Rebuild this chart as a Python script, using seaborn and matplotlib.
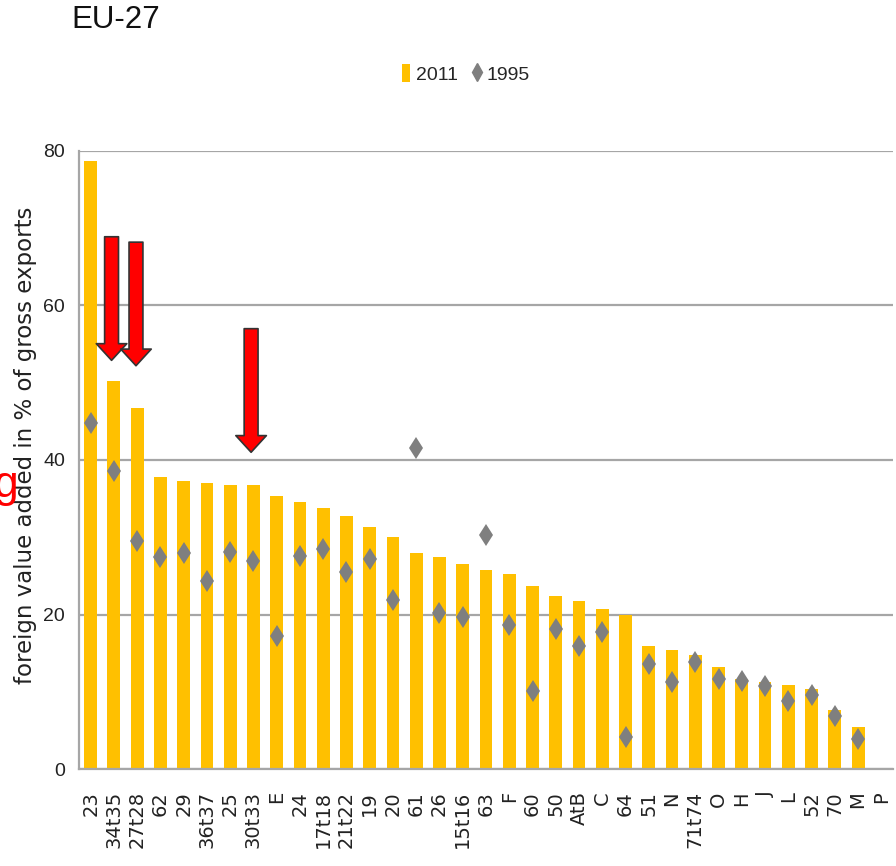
import matplotlib
matplotlib.use('Agg')
import matplotlib.pyplot as plt
from matplotlib.lines import Line2D
from matplotlib.patches import Patch
from matplotlib.ticker import FixedLocator
import numpy as np
import seaborn as sns

# sectors sorted by foreign VA share in 2011
sectors = ['23', '34t35', '27t28', '62', '29', '36t37', '25', '30t33', 'E', '24',
           '17t18', '21t22', '19', '20', '61', '26', '15t16', '63', 'F', '60',
           '50', 'AtB', 'C', '64', '51', 'N', '71t74', 'O', 'H', 'J',
           'L', '52', '70', 'M', 'P']
share_2011 = [78.7, 50.2, 46.7, 37.8, 37.3, 37.0, 36.8, 36.8, 35.3, 34.6,
              33.8, 32.8, 31.3, 30.0, 28.0, 27.5, 26.5, 25.7, 25.2, 23.7,
              22.4, 21.7, 20.7, 20.0, 15.9, 15.4, 14.7, 13.2, 11.6, 11.2,
              10.9, 10.4, 7.6, 5.4, 0.0]
share_1995 = [44.8, 38.6, 29.5, 27.4, 28.0, 24.3, 28.1, 26.9, 17.2, 27.6,
              28.5, 25.5, 27.2, 21.9, 41.5, 20.2, 19.7, 30.3, 18.6, 10.1,
              18.1, 15.9, 17.7, 4.2, 13.6, 11.3, 13.9, 11.6, 11.4, 10.8,
              8.8, 9.6, 6.9, 3.9, np.nan]
yticks = [0, 20, 40, 60, 80]

bar_col = '#FFC000'
dia_col = '#7F7F7F'
grey = '#A6A6A6'
narrow = ['Liberation Sans Narrow', 'Liberation Sans']

sns.set_style('white')
plt.rcParams['font.family'] = ['DejaVu Sans']

fig = plt.figure(figsize=(8.96, 8.66), dpi=100)
ax = fig.add_axes([79 / 896, 97 / 866, 814 / 896, 618 / 866])

sns.barplot(x=sectors, y=share_2011, order=sectors, color=bar_col, saturation=1,
            width=0.55, linewidth=0, ax=ax)
sns.pointplot(x=sectors, y=share_1995, order=sectors, color=dia_col, marker='d',
              markersize=11.5, markeredgewidth=0, linestyle='none', errorbar=None, ax=ax)

ax.set_xlim(-0.5, len(sectors) - 0.5)
ax.set_ylim(0, 80)
ax.set_yticks(yticks)
ax.yaxis.grid(True, color=grey, lw=1.6)
ax.set_axisbelow(True)

for s in ['top', 'right']:
    ax.spines[s].set_visible(False)
for s in ['left', 'bottom']:
    ax.spines[s].set_color(grey)
    ax.spines[s].set_linewidth(1.6)

ax.set_xticks(range(len(sectors)))
ax.set_xticklabels(sectors, rotation=90, fontsize=14, color='#222222')
ax.xaxis.set_minor_locator(FixedLocator(np.arange(-0.5, len(sectors), 1)))
ax.tick_params(axis='x', which='major', length=0, pad=16)
ax.tick_params(axis='x', which='minor', length=7, width=1.2, color=grey)
ax.tick_params(axis='y', length=6, width=1.6, color=grey, pad=4)
for lab in ax.get_yticklabels():
    lab.set_family(narrow)
    lab.set_fontsize(14)
    lab.set_color('#222222')

ax.set_xlabel('')
ax.set_ylabel('foreign value added in % of gross exports', fontsize=16.5, color='#222222')
ax.yaxis.set_label_coords(-0.052, 0.524)

# red arrows
for ax_x, y_tip, y_tail in [(0.9, 52.9, 68.9), (1.95, 52.2, 68.2), (6.9, 41.0, 57.0)]:
    ax.annotate('', xy=(ax_x, y_tip), xytext=(ax_x, y_tail),
                arrowprops=dict(arrowstyle='simple,head_length=1.2,head_width=2.2,tail_width=1.0',
                                fc='#FF0000', ec='#333333', lw=1.2,
                                shrinkA=0, shrinkB=0, mutation_scale=10))

handles = [Patch(fc=bar_col, ec='none', label='2011'),
           Line2D([], [], marker='d', ls='none', color=dia_col, ms=9, label='1995')]
fig.legend(handles=handles, loc='center', bbox_to_anchor=(0.52, 0.9145), ncol=2,
           frameon=False, handlelength=0.4, handleheight=1.0, handletextpad=0.3,
           columnspacing=0.8, prop={'family': narrow, 'size': 14})

fig.text(71 / 896, 1 - 5 / 866, 'EU-27', ha='left', va='top', fontsize=22.5,
         family='Liberation Sans', color='#111111')
fig.text(-6.5 / 896, 1 - 497 / 866, 'g', ha='left', va='baseline', fontsize=32,
         family='Liberation Sans', color='#FF0000')

fig.savefig('out.png', dpi=100)
